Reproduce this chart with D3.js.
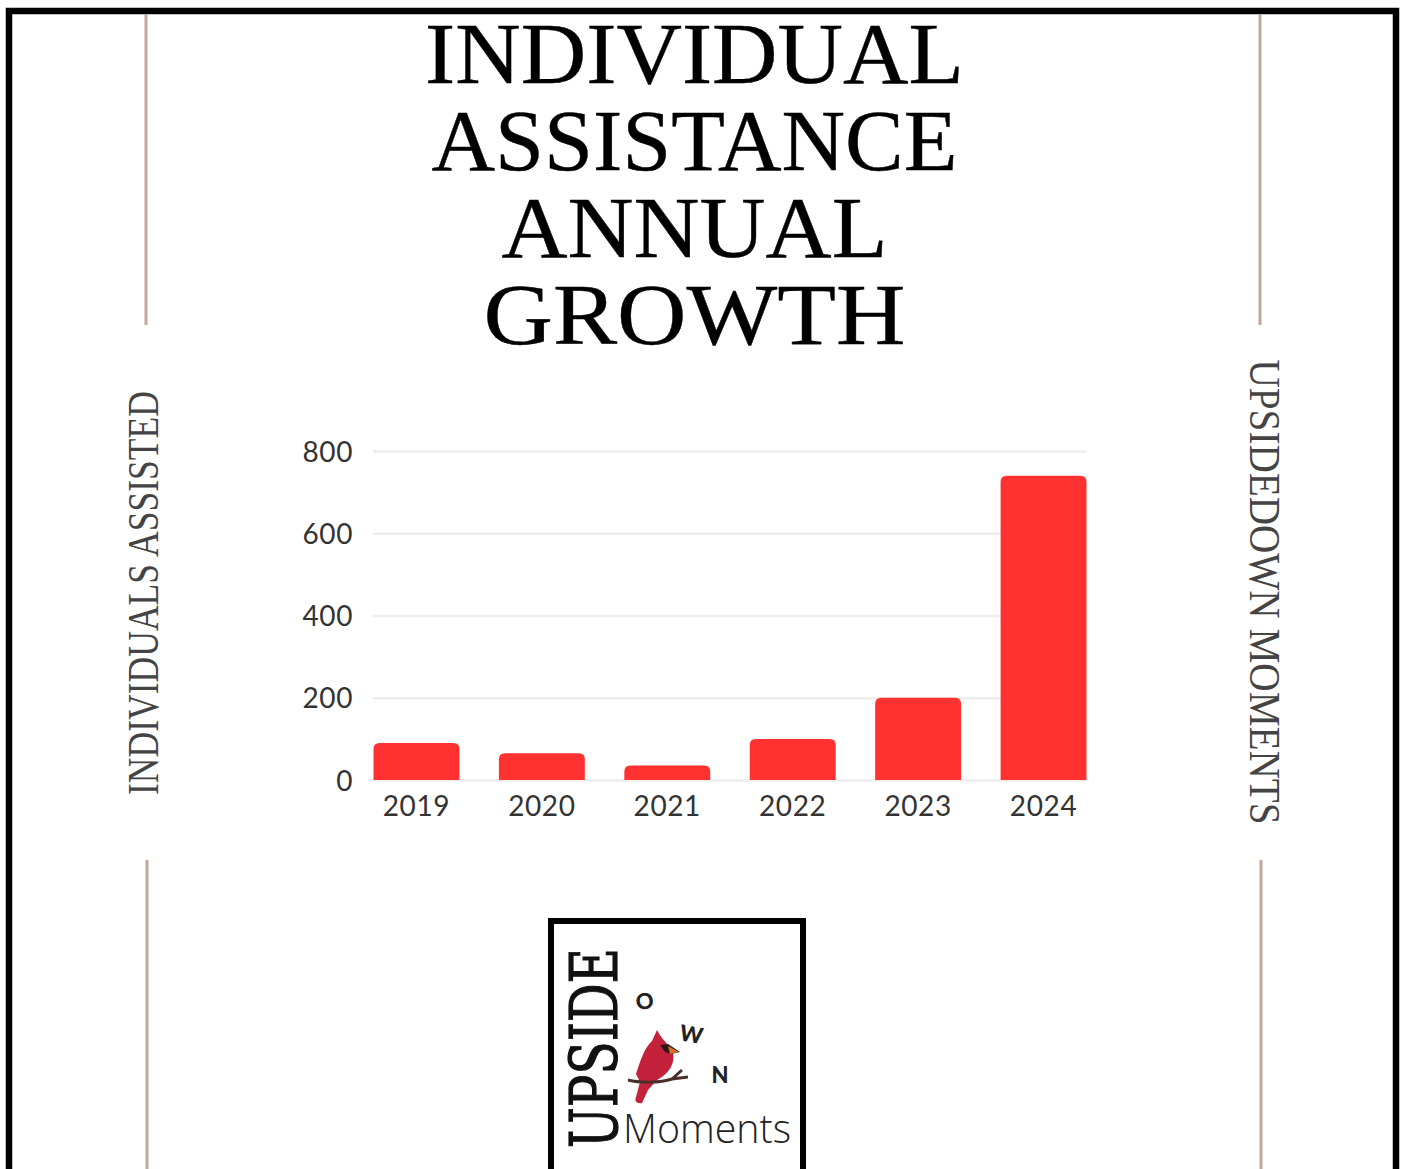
<!DOCTYPE html>
<html>
<head>
<meta charset="utf-8">
<style>
  html, body { margin: 0; padding: 0; background: #fff; }
  svg { display: block; }
  .tick-label { font-family: Lato, sans-serif; font-size: 28px; letter-spacing: 0.6px; fill: #333; }
</style>
<script src="https://cdn.jsdelivr.net/npm/d3@7"></script>
</head>
<body>
<svg id="chart" width="1404" height="1169"></svg>
<script>
const years = ['2019', '2020', '2021', '2022', '2023', '2024'];
const assisted = [90, 65, 35, 100, 200, 740];
const yTicks = [0, 200, 400, 600, 800];
const titleLines = ['INDIVIDUAL', 'ASSISTANCE', 'ANNUAL', 'GROWTH'];

const svg = d3.select('#chart');
const serif = '"Liberation Serif", serif';

//FRAME
svg.append('rect')
  .attr('x', 9).attr('y', 11)
  .attr('width', 1387).attr('height', 1200)
  .attr('fill', '#fff').attr('stroke', '#000').attr('stroke-width', 6.5);

//SIDE RULES
const rules = [
  [146, 14, 325], [147, 860, 1169],
  [1260, 14, 325], [1261, 860, 1169],
];
svg.selectAll('.rule').data(rules).enter().append('line')
  .classed('rule', true)
  .attr('x1', (d) => d[0]).attr('x2', (d) => d[0])
  .attr('y1', (d) => d[1]).attr('y2', (d) => d[2])
  .attr('stroke', '#c2a89c').attr('stroke-width', 3);

//TITLE
const titleWidths = [539, 526, 386, 422];
svg.selectAll('.title').data(titleLines).enter().append('text')
  .classed('title', true)
  .attr('x', 694.5)
  .attr('y', (d, i) => 83 + i * 87)
  .attr('text-anchor', 'middle')
  .attr('font-family', serif)
  .attr('font-size', 86)
  .attr('textLength', (d, i) => titleWidths[i])
  .attr('lengthAdjust', 'spacingAndGlyphs')
  .attr('fill', '#000')
  .attr('stroke', '#000')
  .attr('stroke-width', 0.4)
  .text((d) => d);

//SIDE TEXT
svg.append('text')
  .attr('transform', 'translate(158,593) rotate(-90)')
  .attr('text-anchor', 'middle')
  .attr('font-family', serif)
  .attr('font-size', 45)
  .attr('textLength', 404)
  .attr('lengthAdjust', 'spacingAndGlyphs')
  .attr('fill', '#444')
  .text('INDIVIDUALS ASSISTED');

svg.append('text')
  .attr('transform', 'translate(1250,592) rotate(90)')
  .attr('text-anchor', 'middle')
  .attr('font-family', serif)
  .attr('font-size', 45)
  .attr('textLength', 465)
  .attr('lengthAdjust', 'spacingAndGlyphs')
  .attr('fill', '#444')
  .text('UPSIDEDOWN MOMENTS');

//SCALE AND AXIS
const xScale = d3.scaleBand()
  .domain(years)
  .range([373.5, 1086.5])
  .paddingInner(0.315)
  .paddingOuter(0);

const yScale = d3.scaleLinear()
  .domain([0, 800])
  .range([780, 451]);

const yAxis = d3.axisLeft(yScale)
  .tickValues(yTicks)
  .tickSize(-(1086 - 373))
  .tickPadding(20);

const yG = svg.append('g')
  .attr('transform', 'translate(373,0)')
  .call(yAxis);
yG.select('.domain').remove();
yG.selectAll('.tick line').attr('stroke', '#eeeeee').attr('stroke-width', 2.5);
yG.selectAll('.tick text').attr('class', 'tick-label').attr('dy', '0.36em');

const xAxis = d3.axisBottom(xScale).tickSize(0).tickPadding(16);
const xG = svg.append('g')
  .attr('transform', 'translate(0,780)')
  .call(xAxis);
xG.select('.domain').remove();
xG.selectAll('.tick text').attr('class', 'tick-label');

//BARS
const r = 6;
svg.selectAll('.bar').data(assisted).enter().append('path')
  .classed('bar', true)
  .attr('fill', '#ff3131')
  .attr('d', (d, i) => {
    const x0 = xScale(years[i]);
    const x1 = x0 + xScale.bandwidth();
    const y0 = yScale(0);
    const y1 = yScale(d);
    return `M${x0},${y0}V${y1 + r}Q${x0},${y1} ${x0 + r},${y1}H${x1 - r}Q${x1},${y1} ${x1},${y1 + r}V${y0}Z`;
  });

//LOGO
const logo = svg.append('g');
logo.append('rect')
  .attr('x', 551).attr('y', 921)
  .attr('width', 252).attr('height', 300)
  .attr('fill', '#fff').attr('stroke', '#000').attr('stroke-width', 6);

logo.append('text')
  .attr('transform', 'translate(617,1148) rotate(-90)')
  .attr('font-family', '"DejaVu Serif", serif')
  .attr('font-size', 66)
  .attr('textLength', 200)
  .attr('lengthAdjust', 'spacingAndGlyphs')
  .attr('fill', '#111')
  .attr('stroke', '#111')
  .attr('stroke-width', 1.2)
  .text('UPSIDE');

const letters = [['O', 646, 1009, -10], ['W', 690, 1042, 10], ['N', 720, 1083, 0]];
logo.selectAll('.down').data(letters).enter().append('text')
  .classed('down', true)
  .attr('transform', (d) => `translate(${d[1]},${d[2]}) rotate(${d[3]})`)
  .attr('text-anchor', 'middle')
  .attr('font-family', 'Lato, sans-serif')
  .attr('font-weight', 900)
  .attr('font-size', 22)
  .attr('fill', '#222')
  .text((d) => d[0]);

logo.append('text')
  .attr('x', 623).attr('y', 1143)
  .attr('font-family', '"Open Sans", sans-serif')
  .attr('font-weight', 300)
  .attr('font-size', 40)
  .attr('textLength', 168)
  .attr('lengthAdjust', 'spacingAndGlyphs')
  .attr('fill', '#222')
  .text('Moments');

// cardinal
logo.append('path')
  .attr('d', 'M657,1030 C660,1036 664,1040 668,1045 L673,1053 C675,1063 670,1073 657,1080 L648,1090 L642,1103 C637,1104 634,1101 636,1097 L640,1082 L636,1074 C640,1062 644,1048 652,1041 Z')
  .attr('fill', '#c4213c');
logo.append('path')
  .attr('d', 'M660,1045 L668,1044 L680,1052 L671,1054 L665,1052 Z')
  .attr('fill', '#2b1a16');
logo.append('path')
  .attr('d', 'M668,1046 L679,1052 L670,1054 Z')
  .attr('fill', '#d9702a');
logo.append('path')
  .attr('d', 'M628,1080 C640,1083 660,1083 672,1079 L682,1070 M672,1079 L688,1077')
  .attr('fill', 'none')
  .attr('stroke', '#4a3028')
  .attr('stroke-width', 3);
</script>
</body>
</html>
